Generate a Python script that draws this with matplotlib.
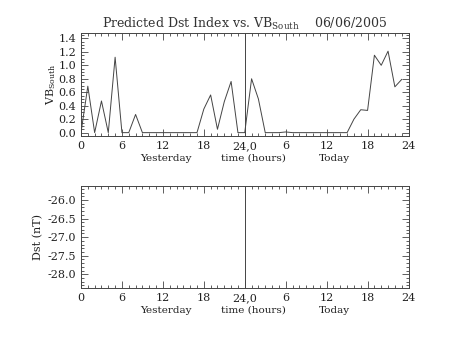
import numpy as np
import matplotlib.pyplot as plt
from matplotlib.ticker import MultipleLocator, AutoMinorLocator
import matplotlib.transforms as mtransforms

# hourly VB_south, yesterday 0h .. today 23h
hours = np.arange(0, 48)
vb_south = [0.0, 0.69, 0.0, 0.47, 0.0, 1.12, 0.0, 0.0, 0.27, 0.0,
            0.0, 0.0, 0.0, 0.0, 0.0, 0.0, 0.0, 0.0, 0.35, 0.56,
            0.05, 0.46, 0.76, 0.0, 0.0, 0.80, 0.50, 0.0, 0.0, 0.0,
            0.01, 0.0, 0.0, 0.0, 0.0, 0.0, 0.0, 0.0, 0.0, 0.0,
            0.20, 0.34, 0.33, 1.15, 1.0, 1.21, 0.68, 0.79]
xtick_pos = [0, 6, 12, 18, 24, 30, 36, 42, 48]
xtick_labels = ['0', '6', '12', '18', '24,0', '6', '12', '18', '24']
date_str = '06/06/2005'

plt.rcParams['font.family'] = 'DejaVu Serif'
plt.rcParams['font.size'] = 8

ink = '#444444'
fig = plt.figure(figsize=(4.53, 3.40), dpi=100)
ax1 = fig.add_axes([0.1788, 0.600, 0.7230, 0.303])
ax2 = fig.add_axes([0.1788, 0.152, 0.7230, 0.301])


def style(ax):
    ax.set_xlim(0, 48)
    ax.set_xticks(xtick_pos)
    ax.set_xticklabels(xtick_labels)
    ax.xaxis.set_minor_locator(MultipleLocator(1))
    ax.tick_params(which='both', direction='in', top=True, right=True,
                   color=ink, labelcolor='#222222', width=0.6)
    ax.tick_params(which='major', length=5, pad=3.5)
    ax.tick_params(which='minor', length=2.5)
    for s in ax.spines.values():
        s.set_color(ink)
        s.set_linewidth(0.7)
    ax.axvline(24, color=ink, lw=0.7)
    tr = mtransforms.blended_transform_factory(ax.transData, ax.transAxes)
    for xpos, txt in [(12.45, 'Yesterday'), (25.2, 'time (hours)'), (37.1, 'Today')]:
        ax.text(xpos, -0.24, txt, transform=tr, ha='center', va='baseline',
                color='#222222', fontsize=7.5)


ax1.plot(hours, vb_south, color=ink, lw=0.7)
style(ax1)
ax1.set_ylim(-0.05, 1.48)
ax1.yaxis.set_major_locator(MultipleLocator(0.2))
ax1.yaxis.set_minor_locator(AutoMinorLocator(4))
ax1.yaxis.set_major_formatter(plt.FormatStrFormatter('%.1f'))
ax1.set_ylabel('VB$_{\\mathregular{South}}$', color='#222222', fontsize=8)
ax1.yaxis.set_label_coords(-0.07, 0.5)
ax1.set_title('Predicted Dst Index vs. VB$_{\\mathregular{South}}$    ' + date_str,
              color='#333333', fontsize=9, pad=4)

style(ax2)
ax2.set_ylim(-28.38, -25.62)
ax2.yaxis.set_major_locator(MultipleLocator(0.5))
ax2.yaxis.set_minor_locator(AutoMinorLocator(5))
ax2.yaxis.set_major_formatter(plt.FormatStrFormatter('%.1f'))
ax2.set_ylabel('Dst (nT)', color='#222222', fontsize=8)
ax2.yaxis.set_label_coords(-0.115, 0.5)

fig.savefig('out.png', dpi=100)
